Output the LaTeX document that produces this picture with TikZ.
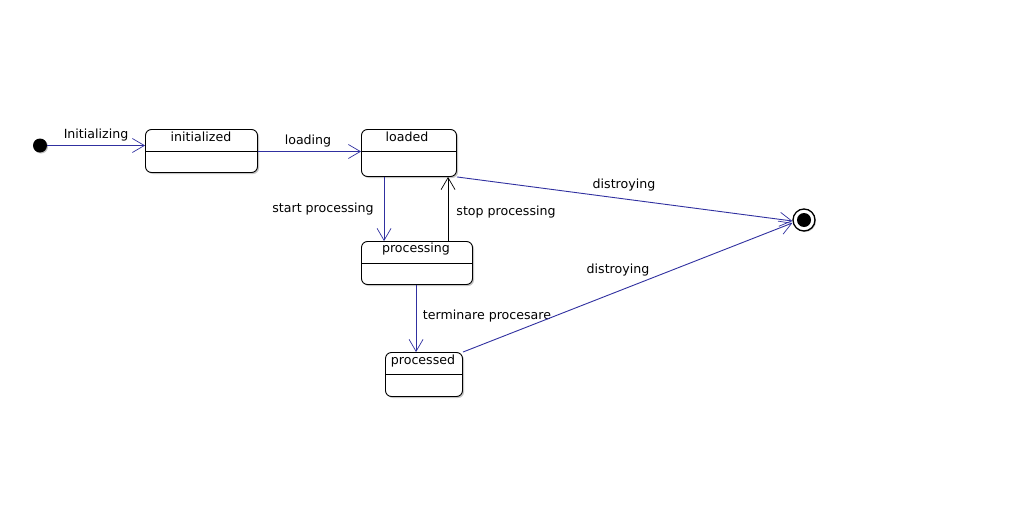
\documentclass[tikz,border=0pt]{standalone}
\usepackage{fontspec}
\setmainfont{DejaVu Sans}
\usetikzlibrary{arrows.meta,shadows,calc}
\definecolor{edge}{RGB}{48,48,160}
\tikzset{
  x=1pt,y=-1pt,
  state/.style={draw=black,line width=0.9pt,rounded corners=6pt,fill=white,
    drop shadow={shadow xshift=1.5pt,shadow yshift=-1.5pt,fill=gray!45,opacity=1},
    inner sep=0pt},
  lbl/.style={font=\fontsize{12.6}{14}\selectfont,inner sep=0pt,anchor=center},
  trans/.style={draw=edge,line width=0.9pt,-{Straight Barb[length=12pt,width=14pt,line width=0.7pt]}},
  back/.style={draw=black,line width=0.9pt,-{Straight Barb[length=12pt,width=14pt,line width=0.7pt]}},
}
\begin{document}
\begin{tikzpicture}
\useasboundingbox[fill=white] (0,0) rectangle (1036,522);
% initial
\node[circle,fill=black,minimum size=14pt,inner sep=0pt,drop shadow={shadow xshift=1pt,shadow yshift=-1pt,fill=gray!50,opacity=1}] (start) at (40,145.5) {};
% states
\node[state,minimum width=112pt,minimum height=43pt] (init) at (201.5,151) {};
\node[state,minimum width=95pt,minimum height=47pt] (loaded) at (409,153) {};
\node[state,minimum width=111pt,minimum height=43pt] (proc) at (417,263) {};
\node[state,minimum width=77pt,minimum height=44pt] (procd) at (424,374.5) {};
% dividers
\draw[line width=0.9pt] (init.west |- 0,151.5) -- (init.east |- 0,151.5);
\draw[line width=0.9pt] (loaded.west |- 0,151.5) -- (loaded.east |- 0,151.5);
\draw[line width=0.9pt] (proc.west |- 0,263.5) -- (proc.east |- 0,263.5);
\draw[line width=0.9pt] (procd.west |- 0,374.5) -- (procd.east |- 0,374.5);
% titles
\node[lbl] (tinit) at (201,137) {initialized};
\node[lbl] (tloaded) at (407,137) {loaded};
\node[lbl] (tproc) at (416,249) {processing};
\node[lbl] (tprocd) at (423,361) {processed};
% final
\node[circle,draw=black,fill=white,line width=1.3pt,minimum size=22pt,inner sep=0pt,drop shadow={shadow xshift=1pt,shadow yshift=-1pt,fill=gray!50,opacity=1}] (end) at (804,220) {};
\node[circle,fill=black,minimum size=14pt,inner sep=0pt] (endin) at (end.center) {};
% transitions
\draw[trans] (start.east) -- (init.west |- start.east);
\node[lbl] (l1) at (96,135) {Initializing};
\draw[trans] (init.east |- 0,151.5) -- (loaded.west |- 0,151.5);
\node[lbl] (l2) at (308,141) {loading};
\draw[trans] ($(loaded.south west)+(23,0)$) -- ($(proc.north west)+(23,0)$);
\node[lbl] (l3) at (323,209) {start processing};
\draw[back] ($(proc.north west)+(87,0)$) -- ($(loaded.south west)+(87,0)$);
\node[lbl] (l4) at (506,212) {stop processing};
\draw[trans] (loaded.south east) -- ($(end.west)+(0,1)$);
\node[lbl] (l5) at (624,185) {distroying};
\draw[trans] ($(proc.south west)+(55,0)$) -- ($(procd.north west)+(31,0)$);
\node[lbl] (l6) at (487,316) {terminare procesare};
\draw[trans] (procd.north east) -- ($(end.west)+(0,3)$);
\node[lbl] (l7) at (618,270) {distroying};
\end{tikzpicture}
\end{document}
